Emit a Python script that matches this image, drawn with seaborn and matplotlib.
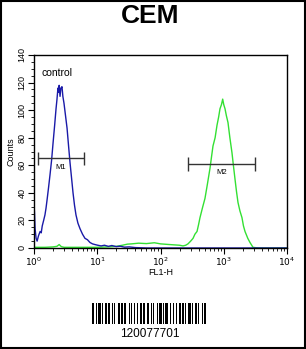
import numpy as np
import pandas as pd
import matplotlib
matplotlib.use("Agg")
import matplotlib.pyplot as plt
from matplotlib.patches import Rectangle
from matplotlib.ticker import FixedLocator, MultipleLocator
import seaborn as sns

sns.set_style("ticks")
plt.rcParams['font.family'] = ['Liberation Sans', 'DejaVu Sans']
plt.rcParams['text.color'] = 'black'
plt.rcParams['axes.labelcolor'] = 'black'
plt.rcParams['xtick.color'] = 'black'
plt.rcParams['ytick.color'] = 'black'

title = "CEM"
control_fl = [1.00, 1.02, 1.04, 1.08, 1.12, 1.18, 1.25, 1.30, 1.35, 1.42, 1.49, 1.55, 1.62, 1.70, 1.79,
              1.90, 2.00, 2.12, 2.23, 2.31, 2.39, 2.45, 2.50, 2.58, 2.66, 2.77, 2.86, 2.98, 3.15, 3.33,
              3.52, 3.71, 3.92, 4.14, 4.37, 4.61, 4.95, 5.34, 5.85, 6.40, 7.0, 7.67, 8.4, 9.2, 10.2,
              11.5, 13, 15, 17, 20, 23, 27, 32, 40, 60, 10000]
control_cnt = [32, 25, 14, 7, 5, 9, 12, 11, 16, 20, 24, 29, 36, 44, 53,
               64, 76, 89, 101, 108, 116, 113, 118, 110, 116, 117, 110, 105, 96, 87,
               74, 62, 51, 40, 31, 24, 18, 14, 10, 7, 6, 4, 3, 2.5, 2,
               1.5, 2, 1.2, 1.8, 1, 1.3, 0.6, 0.8, 0.3, 0, 0]
sample_fl = [1.0, 1.5, 2.0, 2.3, 2.5, 2.7, 3.0, 6, 10, 15, 20, 25, 30, 35, 45, 60, 80, 100, 130,
             150, 200, 227, 250, 272, 300, 327, 350, 378, 400, 421, 460, 505, 550, 607, 640, 676,
             730, 782, 830, 872, 920, 962, 1000, 1047, 1100, 1167, 1250, 1350, 1420, 1506, 1590,
             1680, 1800, 1942, 2050, 2168, 2400, 2600, 2899, 3500, 10000]
sample_cnt = [0.5, 0.5, 0.8, 1.2, 2.5, 1, 0.5, 0.5, 0.5, 0.8, 1.2, 2, 2.8, 3, 3.5, 3.2, 3.8, 3, 2.6,
              2.4, 2, 1.5, 2, 3, 5, 7, 10, 12, 17, 22, 29, 36, 46, 58, 66, 74,
              80, 89, 95, 101, 104, 108, 104, 101, 96, 91, 80, 69, 60, 50, 41,
              33, 27, 22, 16, 12, 7, 4, 0.5, 0, 0]
markers = ["M1", "M2"]
marker_lo = [1.16, 272]
marker_hi = [6.2, 3100]
marker_y = [65, 61]
barcode_text = "120077701"
barcode_modules = [2, 1, 1, 1, 2, 1, 1, 2, 1, 1, 2, 1, 1, 1, 1, 2, 2, 1, 1, 1, 2, 2, 1, 1, 1, 1, 1, 2,
                   1, 1, 2, 1, 1, 2, 2, 1, 1, 1, 1, 2, 1, 1, 2, 1, 1, 1, 2, 2, 1, 1, 1, 2, 1, 1,
                   2, 1, 1, 1, 1, 2, 2, 1, 1, 1, 2, 1, 1, 2, 1, 1, 1, 2]

fig = plt.figure(figsize=(3.06, 3.49), dpi=100)
fig.patch.set_facecolor("white")

ax = fig.add_axes([34/306, (349-248)/349, 253/306, 193/349])
df_c = pd.DataFrame({"FL1-H": control_fl, "Counts": control_cnt})
df_s = pd.DataFrame({"FL1-H": sample_fl, "Counts": sample_cnt})
sns.lineplot(data=df_s, x="FL1-H", y="Counts", ax=ax, color="#33e033", lw=1.0, estimator=None, sort=False)
sns.lineplot(data=df_c, x="FL1-H", y="Counts", ax=ax, color="#1a1aa8", lw=1.0, estimator=None, sort=False)

ax.set_xscale("log")
ax.set_xlim(1, 10000)
ax.set_ylim(0, 140)
ax.xaxis.set_major_locator(FixedLocator([1, 10, 100, 1000, 10000]))
ax.set_xticklabels([r"$10^0$", r"$10^1$", r"$10^2$", r"$10^3$", r"$10^4$"])
ax.yaxis.set_major_locator(MultipleLocator(20))
ax.yaxis.set_minor_locator(MultipleLocator(5))
for lab in ax.get_yticklabels():
    lab.set_rotation(90)
    lab.set_va("center")
ax.tick_params(axis="both", which="major", length=4, width=0.8, labelsize=6.5, pad=1.5, color="black", labelcolor="black")
ax.tick_params(axis="both", which="minor", length=2, width=0.6, color="black")
ax.set_xlabel("FL1-H", fontsize=6.5, labelpad=0, color="black")
ax.set_ylabel("Counts", fontsize=6.5, labelpad=1, color="black")
for s in ax.spines.values():
    s.set_visible(True)
    s.set_linewidth(1.0)
    s.set_color("black")

for name, lo, hi, yv in zip(markers, marker_lo, marker_hi, marker_y):
    ax.hlines(yv, lo, hi, color="#333333", lw=1.0)
    ax.vlines([lo, hi], yv - 5, yv + 5, color="#333333", lw=1.0)
    ax.text(np.sqrt(lo * hi), yv - 4, name, fontsize=5.5, ha="center", va="top", color="black")

ax.text(1.3, 127, "control", fontsize=7.5, ha="left", va="center", color="black")

fig.text(150/306, 1 - 16/349, title, fontsize=19, fontweight="bold", ha="center", va="center", color="black")

# barcode
bax = fig.add_axes([92/306, (349-324)/349, 116/306, 21/349])
edges = np.concatenate([[0], np.cumsum(barcode_modules)])
lefts = edges[:-1][::2]
widths = np.array(barcode_modules)[::2]
bax.bar(lefts, 1, width=widths, align="edge", color="black", linewidth=0)
bax.set_xlim(0, edges[-1])
bax.set_ylim(0, 1)
bax.axis("off")
fig.text(150/306, 1 - 334/349, barcode_text, fontsize=8.5, ha="center", va="center", color="black")

fig.patches.append(Rectangle((0.002, 0.002), 0.996, 0.996, transform=fig.transFigure,
                             fill=False, lw=1.5, edgecolor="black"))

fig.savefig("out.png", dpi=100)
